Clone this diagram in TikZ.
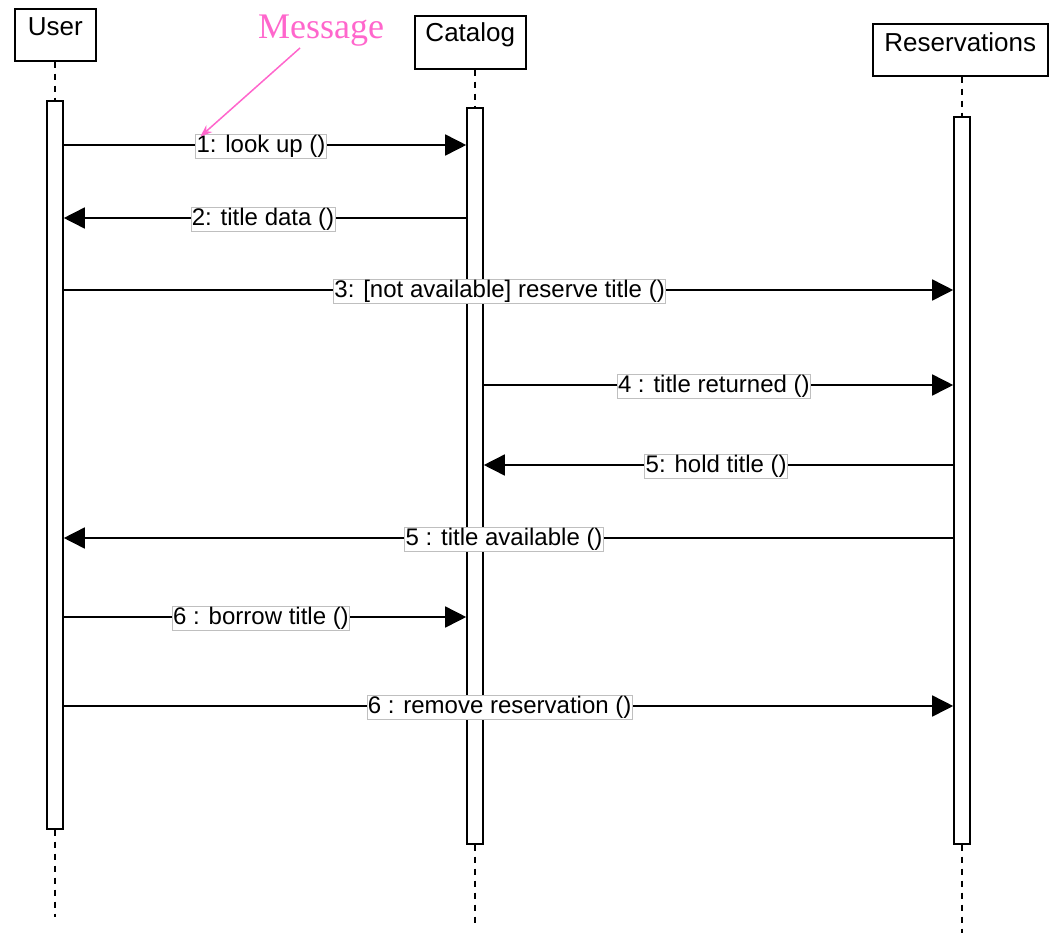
\documentclass[tikz,border=0pt]{standalone}
\usepackage{fontspec}
\setmainfont{Liberation Sans}
\newfontfamily\serifmsg{Liberation Serif}
\usetikzlibrary{arrows.meta,calc}
\definecolor{pinkc}{RGB}{255,102,204}
\tikzset{
  objbox/.style={draw,line width=1.6pt,fill=white,inner sep=0pt},
  objtxt/.style={font=\fontsize{26}{28}\selectfont,yshift=8pt},
  actbar/.style={draw,line width=1.6pt,fill=white,minimum width=16pt,inner sep=0pt},
  life/.style={line width=1.6pt,dash pattern=on 6pt off 6pt},
  msg/.style={line width=1.6pt,-{Triangle[length=21pt,width=21pt]}},
  lbl/.style={draw=black!25,line width=0.8pt,fill=white,inner sep=0.8pt,font=\fontsize{24}{26}\selectfont,yshift=-1pt}
}
\begin{document}
\begin{tikzpicture}[x=1pt,y=-1pt]
\useasboundingbox (0,0) rectangle (1054,937);
% objects
\node[objbox,minimum width=81pt,minimum height=52pt,anchor=north west] (user) at (14,8) {};
\node[objtxt] (usert) at (user.center) {User};
\node[objbox,minimum width=111pt,minimum height=53pt,anchor=north west] (cat) at (414,15) {};
\node[objtxt] (catt) at (cat.center) {Catalog};
\node[objbox,minimum width=175pt,minimum height=52pt,anchor=north west] (res) at (872,23) {};
\node[objtxt] (rest) at (res.center) {Reservations};
% activation bars
\node[actbar,minimum height=728pt,anchor=north] (ubar) at (55,100) {};
\node[actbar,minimum height=736pt,anchor=north] (cbar) at (475,107) {};
\node[actbar,minimum height=727pt,anchor=north] (rbar) at (962,116) {};
% lifelines
\draw[life] (ubar.north |- user.south) -- (ubar.north);
\draw[life] (cbar.north |- cat.south) -- (cbar.north);
\draw[life] (rbar.north |- res.south) -- (rbar.north);
\coordinate (uend) at (55,917);
\coordinate (cend) at (475,925);
\coordinate (rend) at (962,933);
\draw[life] (ubar.south) -- (uend);
\draw[life] (cbar.south) -- (cend);
\draw[life] (rbar.south) -- (rend);
% messages
\draw[msg] (ubar.east |- 0,145) -- node[lbl,pos=0.49] (l1) {1: look up ()} (cbar.west |- 0,145);
\draw[msg] (cbar.west |- 0,218) -- node[lbl,pos=0.505] (l2) {2: title data ()} (ubar.east |- 0,218);
\draw[msg] (ubar.east |- 0,290) -- node[lbl,pos=0.49] (l3) {3: [not available] reserve title ()} (rbar.west |- 0,290);
\draw[msg] (cbar.east |- 0,385) -- node[lbl,pos=0.49] (l4) {4 : title returned ()} (rbar.west |- 0,385);
\draw[msg] (rbar.west |- 0,465) -- node[lbl,pos=0.505] (l5) {5: hold title ()} (cbar.east |- 0,465);
\draw[msg] (rbar.west |- 0,538) -- node[lbl,pos=0.505] (l6) {5 : title available ()} (ubar.east |- 0,538);
\draw[msg] (ubar.east |- 0,617) -- node[lbl,pos=0.49] (l7) {6 : borrow title ()} (cbar.west |- 0,617);
\draw[msg] (ubar.east |- 0,706) -- node[lbl,pos=0.49] (l8) {6 : remove reservation ()} (rbar.west |- 0,706);
% annotation
\node[text=pinkc,font=\serifmsg\fontsize{36}{38}\selectfont] (note) at (321,31) {Message};
\coordinate (nstart) at (300,48);
\draw[pinkc,line width=1.5pt,-{Stealth[length=12pt,width=9pt]}] (nstart) -- ([xshift=5pt,yshift=-3pt]l1.north west);
\end{tikzpicture}
\end{document}
